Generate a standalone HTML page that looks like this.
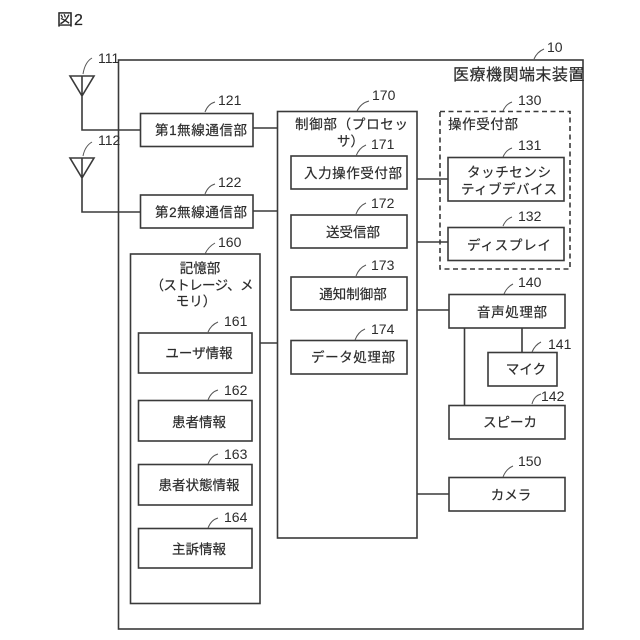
<!DOCTYPE html>
<html lang="ja"><head><meta charset="utf-8">
<style>
html,body{margin:0;padding:0;background:#fff}
svg{display:block}
text{font-family:"Liberation Sans","Noto Sans CJK JP",sans-serif;fill:#2c2c2c;font-size:13.5px;stroke:#2c2c2c;stroke-width:.2px}
.n{font-size:14px;stroke-width:0}
.c{text-anchor:middle}
.l{stroke-width:1}
</style></head><body>
<svg width="640" height="640" viewBox="0 0 640 640" xmlns="http://www.w3.org/2000/svg">
<rect width="640" height="640" fill="#fff"/>
<g fill="none" stroke="#3a3a3a" stroke-width="1.6">
<rect x="118.500" y="60" width="464.500" height="569"/>
<rect x="140.500" y="113.500" width="112.500" height="33"/>
<rect x="140.500" y="195" width="112.500" height="33"/>
<rect x="277.500" y="111.500" width="139.500" height="426.500"/>
<rect x="291" y="156" width="116" height="33"/>
<rect x="291" y="215" width="116" height="33"/>
<rect x="291" y="277" width="116" height="33"/>
<rect x="291" y="340.500" width="116" height="33.500"/>
<rect x="440" y="111.500" width="130" height="157.500" stroke-dasharray="5 3.500"/>
<rect x="448" y="157.500" width="116" height="43.500"/>
<rect x="448" y="227.500" width="116" height="33"/>
<rect x="449" y="294.500" width="116" height="33.500"/>
<rect x="488" y="352.500" width="69" height="33.500"/>
<rect x="449" y="405.500" width="116" height="33.500"/>
<rect x="449" y="477.500" width="116" height="33.500"/>
<rect x="130.500" y="254" width="129.500" height="349.500"/>
<rect x="138.500" y="333" width="113.500" height="40"/>
<rect x="138.500" y="400.500" width="113.500" height="40.500"/>
<rect x="138.500" y="464.500" width="113.500" height="40.500"/>
<rect x="138.500" y="528.500" width="113.500" height="39.500"/>
<path d="M70 76H94L82 96ZM82 76V130H140.500"/>
<path d="M70 158H94L82 178ZM82 158V212H140.500"/>
<path d="M253 128H277.500M253 211H277.500M260 343H277.500M417 179H448M417 242H448M417 310H449M417 494H449M464.500 328V405.500M522 328V352.500"/>
</g>
<g fill="none" stroke="#555" stroke-width="1">
<path d="M83 74Q85 62 92 58"/>
<path d="M83 156Q85 146 92 142"/>
<path d="M205 112Q208 104 215 102"/>
<path d="M205 194Q208 186 215 184"/>
<path d="M357 111Q361 103 369 101"/>
<path d="M356 156Q359 148 366 145"/>
<path d="M356 214Q359 206 366 203"/>
<path d="M356 276Q359 268 366 265"/>
<path d="M355 340Q358 332 365 329"/>
<path d="M503 111Q506 104 512 102"/>
<path d="M503 157Q506 150 512 148"/>
<path d="M503 226Q506 219 512 217"/>
<path d="M504 294Q507 287 513 284"/>
<path d="M532 352Q535 345 541 342"/>
<path d="M532 404Q534 396 541 394"/>
<path d="M503 477Q506 469 513 466"/>
<path d="M534 59Q537 52 544 49"/>
<path d="M205 254Q208 247 215 243"/>
<path d="M208 332Q211 325 218 322"/>
<path d="M208 400Q211 392 218 390"/>
<path d="M208 464Q211 456 218 454"/>
<path d="M208 528Q211 520 218 518"/>
</g>
<text x="57" y="25" style="font-size:16px;letter-spacing:1px;fill:#222">図2</text>
<text class="n" x="98" y="63">111</text>
<text class="n" x="98" y="145">112</text>
<text class="n" x="218" y="105">121</text>
<text class="n" x="218" y="187">122</text>
<text class="n" x="372" y="100">170</text>
<text class="n" x="371" y="149">171</text>
<text class="n" x="371" y="208">172</text>
<text class="n" x="371" y="270">173</text>
<text class="n" x="371" y="334">174</text>
<text class="n" x="518" y="105">130</text>
<text class="n" x="518" y="150">131</text>
<text class="n" x="518" y="221">132</text>
<text class="n" x="518" y="287">140</text>
<text class="n" x="548" y="349">141</text>
<text class="n" x="541" y="401">142</text>
<text class="n" x="518" y="466">150</text>
<text class="n" x="547" y="52">10</text>
<text class="n" x="218" y="247">160</text>
<text class="n" x="224" y="326">161</text>
<text class="n" x="224" y="395">162</text>
<text class="n" x="224" y="459">163</text>
<text class="n" x="224" y="522">164</text>
<text x="453" y="80" style="font-size:16px;letter-spacing:-.4px" textLength="131">医療機関端末装置</text>
<text x="155" y="135" textLength="92">第1無線通信部</text>
<text x="155" y="217" textLength="92">第2無線通信部</text>
<text x="295" y="129" textLength="113">制御部（プロセッ</text>
<text x="337" y="146">サ）</text>
<text x="304" y="178" textLength="98">入力操作受付部</text>
<text class="c" x="353" y="237">送受信部</text>
<text class="c" x="353" y="299">通知制御部</text>
<text class="c" x="353" y="362" textLength="84">データ処理部</text>
<text x="448" y="129" textLength="70">操作受付部</text>
<text class="c" x="509" y="177" textLength="84">タッチセンシ</text>
<text class="c" x="509" y="194" textLength="96">ティブデバイス</text>
<text class="c" x="509" y="250" textLength="84">ディスプレイ</text>
<text class="c" x="512" y="317" textLength="70">音声処理部</text>
<text class="c" x="526" y="374">マイク</text>
<text class="c" x="510" y="427">スピーカ</text>
<text class="c" x="511" y="500">カメラ</text>
<text class="c" x="200" y="273">記憶部</text>
<text class="c" x="202" y="290" textLength="103">（ストレージ、メ</text>
<text class="c" x="196" y="306">モリ）</text>
<text class="c" x="199" y="358">ユーザ情報</text>
<text class="c" x="199" y="427">患者情報</text>
<text class="c" x="199" y="490">患者状態情報</text>
<text class="c" x="199" y="554">主訴情報</text>
</svg>
</body></html>
